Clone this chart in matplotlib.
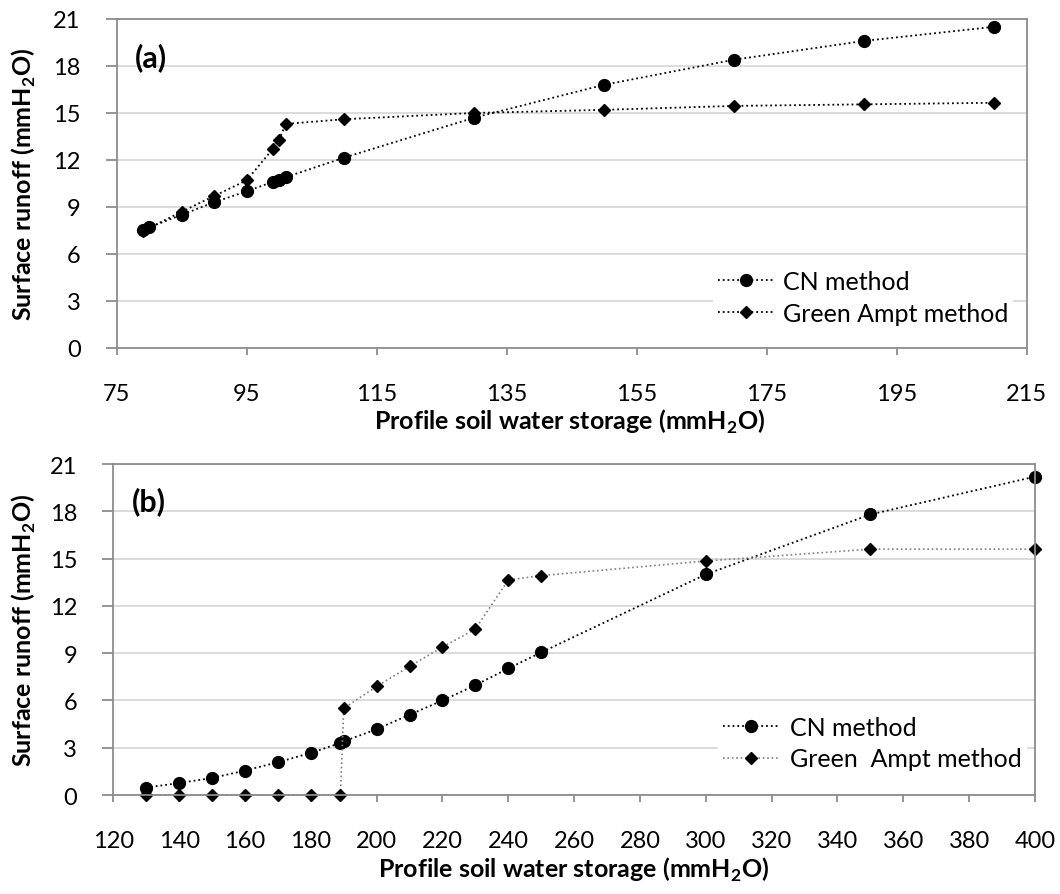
import matplotlib
matplotlib.use("Agg")
import matplotlib.pyplot as plt

# ---------------- data ----------------
# panel (a)
A_CN_X = [79, 80, 85, 90, 95, 99, 100, 101, 110, 130, 150, 170, 190, 210]
A_CN_Y = [7.55, 7.7, 8.5, 9.3, 10.0, 10.6, 10.75, 10.9, 12.15, 14.7, 16.8, 18.4, 19.6, 20.5]
A_GA_X = [79, 85, 90, 95, 99, 100, 101, 110, 130, 150, 170, 190, 210]
A_GA_Y = [7.45, 8.7, 9.7, 10.7, 12.7, 13.3, 14.3, 14.6, 15.0, 15.2, 15.45, 15.55, 15.65]

# panel (b)
B_CN_X = [130, 140, 150, 160, 170, 180, 189, 190, 200, 210, 220, 230, 240, 250, 300, 350, 400]
B_CN_Y = [0.47, 0.76, 1.08, 1.55, 2.08, 2.67, 3.3, 3.4, 4.18, 5.09, 6.0, 6.97, 8.03, 9.05, 14.0, 17.8, 20.2]
B_GA_X = [130, 140, 150, 160, 170, 180, 189, 190, 200, 210, 220, 230, 240, 250, 300, 350, 400]
B_GA_Y = [0, 0, 0, 0, 0, 0, 0, 5.5, 6.89, 8.16, 9.39, 10.53, 13.65, 13.92, 14.85, 15.6, 15.6]

Y_TICKS = [0, 3, 6, 9, 12, 15, 18, 21]
A_X_TICKS = [75, 95, 115, 135, 155, 175, 195, 215]
B_X_TICKS = list(range(120, 401, 20))

plt.rcParams["font.family"] = ["Lato", "DejaVu Sans"]
plt.rcParams["mathtext.fontset"] = "custom"
plt.rcParams["mathtext.rm"] = "Lato"
plt.rcParams["mathtext.bf"] = "Lato:bold"

SPINE = "#8c8c8c"
GRID = "#d9d9d9"
TICK_FS = 17
LAB_FS = 18
LEG_FS = 18

YLAB = r"Surface runoff (mmH$_\mathbf{2}$O)"
XLAB = r"Profile soil water storage (mmH$_\mathbf{2}$O)"


def style_axes(ax, xticks, xlim):
    ax.set_xlim(*xlim)
    ax.set_ylim(0, 21)
    ax.set_xticks(xticks)
    ax.set_yticks(Y_TICKS)
    ax.grid(axis="y", color=GRID, linewidth=1.3)
    ax.set_axisbelow(True)
    for s in ax.spines.values():
        s.set_color(SPINE)
        s.set_linewidth(1.3)
    ax.tick_params(axis="x", direction="out", length=5, width=1.3, color=SPINE,
                   labelsize=TICK_FS, pad=20)
    ax.tick_params(axis="y", direction="out", length=8, width=1.3, color=SPINE,
                   labelsize=TICK_FS, pad=18)
    ax.set_ylabel(YLAB, fontsize=LAB_FS, fontweight="bold")
    ax.set_xlabel(XLAB, fontsize=LAB_FS, fontweight="bold")


fig = plt.figure(figsize=(10.6, 8.95), dpi=100)

# ---- (a) ----
ax1 = fig.add_axes([0.1101, 0.6101, 0.8585, 0.3676])
style_axes(ax1, A_X_TICKS, (75, 215))
ax1.plot(A_CN_X, A_CN_Y, color="black", linestyle=":", linewidth=1.3,
         marker="o", markersize=8.5, label="CN method", clip_on=False)
ax1.plot(A_GA_X, A_GA_Y, color="black", linestyle=":", linewidth=1.3,
         marker="D", markersize=6, label="Green Ampt method", clip_on=False)
ax1.text(0.02, 0.885, "(a)", transform=ax1.transAxes, fontsize=22,
         fontweight="bold", va="center", ha="left")
ax1.yaxis.set_label_coords(-0.0865, 0.5)
ax1.xaxis.set_label_coords(0.498, -0.18)
ax1.legend(loc="upper left", bbox_to_anchor=(0.655, 0.252), fontsize=LEG_FS,
           frameon=True, fancybox=False, edgecolor="none", facecolor="white",
           framealpha=1, handlelength=2.28, handletextpad=0.32,
           labelspacing=0.35, borderpad=0.2, borderaxespad=0)

# ---- (b) ----
ax2 = fig.add_axes([0.1069, 0.1106, 0.8695, 0.3698])
style_axes(ax2, B_X_TICKS, (120, 400))
ax2.plot(B_CN_X, B_CN_Y, color="black", linestyle=":", linewidth=1.3,
         marker="o", markersize=8.5, label="CN method", clip_on=False)
ax2.plot(B_GA_X, B_GA_Y, color="#808080", linestyle=":", linewidth=1.2,
         marker="D", markersize=6, markerfacecolor="black",
         markeredgecolor="black", label="Green  Ampt method", clip_on=False)
ax2.text(0.02, 0.89, "(b)", transform=ax2.transAxes, fontsize=22,
         fontweight="bold", va="center", ha="left")
ax2.yaxis.set_label_coords(-0.0817, 0.5)
ax2.xaxis.set_label_coords(0.5, -0.18)
ax2.legend(loc="upper left", bbox_to_anchor=(0.656, 0.255), fontsize=LEG_FS,
           frameon=True, fancybox=False, edgecolor="none", facecolor="white",
           framealpha=1, handlelength=2.28, handletextpad=0.4,
           labelspacing=0.35, borderpad=0.2, borderaxespad=0)

fig.savefig("out.png", dpi=100)
